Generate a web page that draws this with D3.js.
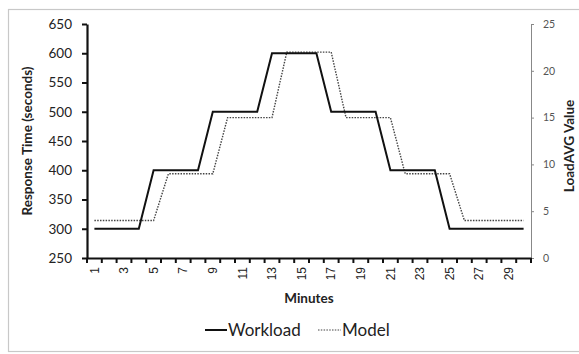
<!DOCTYPE html>
<html><head><meta charset="utf-8">
<script src="https://cdn.jsdelivr.net/npm/d3@7"></script>
<style>
html,body{margin:0;padding:0;background:#fff;}
svg{display:block;font-family:Lato,"Open Sans",sans-serif;}
</style></head>
<body>
<svg id="c" width="579" height="354"></svg>
<script>
const minutes = d3.range(1, 31);
const workload = [300,300,300,300,400,400,400,400,500,500,500,500,600,600,600,600,500,500,500,500,400,400,400,400,300,300,300,300,300,300];
const model = [4,4,4,4,4,9,9,9,9,15,15,15,15,22,22,22,22,15,15,15,15,9,9,9,9,4,4,4,4,4];
const leftTicks = [250,300,350,400,450,500,550,600,650];
const rightTicks = [0,5,10,15,20,25];

const svg = d3.select("#c");
const L = 87, R = 531, T = 24, B = 258;

// outer frame
svg.append("rect").attr("x",8.5).attr("y",9.5).attr("width",600).attr("height",342)
  .attr("fill","none").attr("stroke","#c8c8c8").attr("stroke-width",1.2);

const x = d3.scaleBand().domain(minutes).range([L,R]).padding(0);
const yL = d3.scaleLinear().domain([250,650]).range([B,T]);
const yR = d3.scaleLinear().domain([0,25]).range([B,T]);
const cx = d => x(d) + x.bandwidth()/2;

// lines
const lineW = d3.line().x((d,i)=>cx(minutes[i])).y(d=>yL(d));
const lineM = d3.line().x((d,i)=>cx(minutes[i])).y(d=>yR(d));
svg.append("path").attr("d",lineM(model)).attr("fill","none")
  .attr("stroke","#444").attr("stroke-width",1.4).attr("stroke-dasharray","1.5,1.3");
svg.append("path").attr("d",lineW(workload)).attr("fill","none")
  .attr("stroke","#111").attr("stroke-width",2);

// left axis
const gL = svg.append("g").attr("transform",`translate(${L},0)`)
  .call(d3.axisLeft(yL).tickValues(leftTicks).tickSize(5).tickPadding(10).tickSizeOuter(0));
gL.select(".domain").attr("stroke","#111").attr("stroke-width",2.2);
gL.selectAll(".tick line").attr("stroke","#111").attr("stroke-width",2);
gL.selectAll(".tick text").attr("font-size",13.5).attr("fill","#222").attr("font-family","Lato");

// right axis
const gR = svg.append("g").attr("transform",`translate(${R},0)`)
  .call(d3.axisRight(yR).tickValues(rightTicks).tickSize(3).tickPadding(9).tickSizeOuter(0));
gR.select(".domain").attr("stroke","#888").attr("stroke-width",1);
gR.selectAll(".tick line").attr("stroke","#888");
gR.selectAll(".tick text").attr("font-size",10.5).attr("fill","#555").attr("font-family","Lato");

// bottom axis
const gB = svg.append("g").attr("transform",`translate(0,${B})`)
  .call(d3.axisBottom(x).tickSize(0).tickPadding(0).tickFormat(d => d % 2 === 1 ? d : ""));
gB.select(".domain").attr("stroke","#111").attr("stroke-width",2.2);
gB.selectAll(".tick text").attr("font-size",12).attr("fill","#222")
  .attr("text-anchor","end").attr("dy","0.35em")
  .attr("transform","translate(0,9) rotate(-90)").attr("x",0).attr("y",0);
const bounds = minutes.map(d => x(d)).concat([R]);
svg.append("g").selectAll("line").data(bounds).join("line")
  .attr("x1",d=>d).attr("x2",d=>d).attr("y1",B).attr("y2",B+5)
  .attr("stroke","#111").attr("stroke-width",2);

// axis titles
svg.append("text").attr("transform","translate(32,141) rotate(-90)")
  .attr("text-anchor","middle").attr("font-size",13.5).attr("font-weight","bold")
  .attr("fill","#222").text("Response Time (seconds)");
svg.append("text").attr("transform","translate(574,146) rotate(-90)")
  .attr("text-anchor","middle").attr("font-size",13.5).attr("font-weight","bold")
  .attr("fill","#222").text("LoadAVG Value");
svg.append("text").attr("x",309).attr("y",303)
  .attr("text-anchor","middle").attr("font-size",13.5).attr("font-weight","bold")
  .attr("fill","#222").text("Minutes");

// legend
const lg = svg.append("g");
lg.append("line").attr("x1",205).attr("x2",227).attr("y1",330).attr("y2",330)
  .attr("stroke","#111").attr("stroke-width",2);
lg.append("text").attr("x",228).attr("y",336).attr("font-size",17).attr("fill","#222").text("Workload");
lg.append("line").attr("x1",318).attr("x2",341).attr("y1",330).attr("y2",330)
  .attr("stroke","#444").attr("stroke-width",1.2).attr("stroke-dasharray","1.5,1.3");
lg.append("text").attr("x",342).attr("y",336).attr("font-size",17).attr("fill","#222").text("Model");
</script>
</body></html>
